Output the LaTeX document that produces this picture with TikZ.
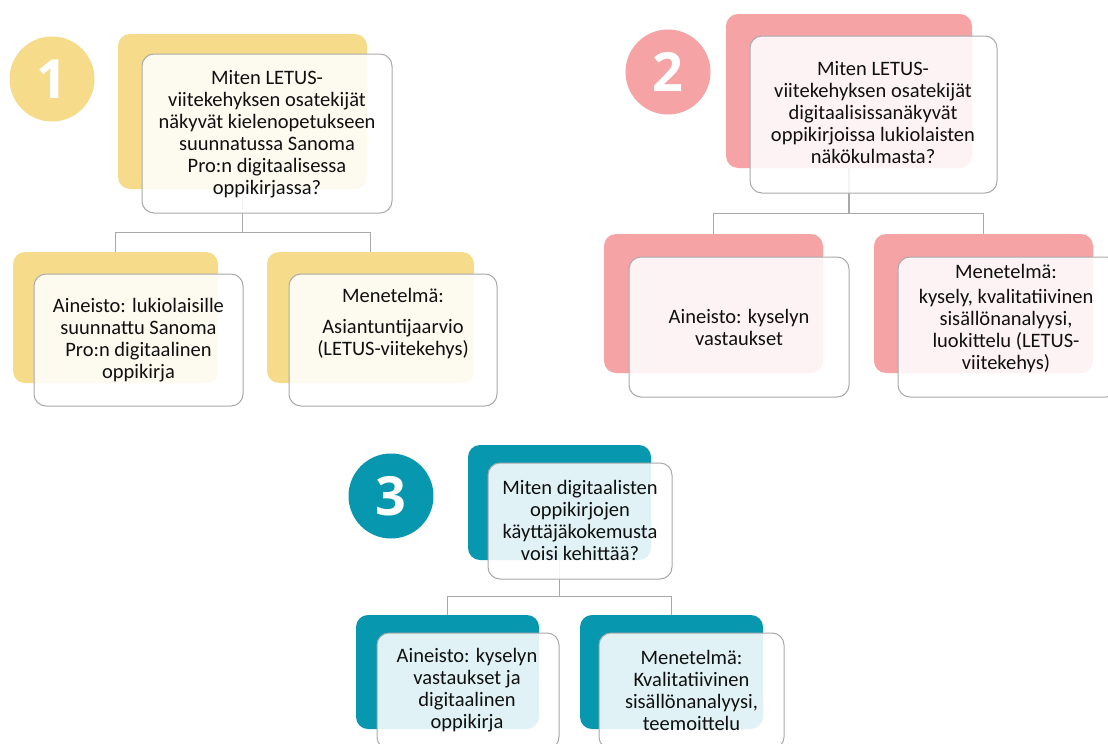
\documentclass[tikz,border=0pt]{standalone}
\usepackage{fontspec}
\setmainfont{Carlito}
\newfontfamily\digitfont{Open Sans}
\definecolor{yel}{HTML}{F6DC8A}
\definecolor{pnk}{HTML}{F5A3A5}
\definecolor{tea}{HTML}{0797AF}
\definecolor{edgegray}{HTML}{A9A9A9}
\definecolor{ink}{HTML}{101010}
\begin{document}
\begin{tikzpicture}[x=1pt,y=-1pt,
  backbox/.style={rectangle, rounded corners=12pt, inner sep=0pt, draw=none},
  frontbox/.style={rectangle, rounded corners=12pt, inner sep=0pt, draw=edgegray, line width=1pt, fill=white, fill opacity=0.88},
  txt/.style={align=center, inner sep=0pt, text=ink, font=\fontsize{20.5}{22}\selectfont},
  numdisc/.style={circle, inner sep=0pt, minimum size=85pt, text=white, font=\digitfont\bfseries\fontsize{54}{54}\selectfont},
  link/.style={draw=edgegray, line width=1.2pt}]
\useasboundingbox (0,0) rectangle (1108,744);
\clip (0,0) rectangle (1108,744);

% ---------- group 1 ----------
\node[numdisc, fill=yel] (n1) at (52,79) {1};
\node[backbox, fill=yel, minimum width=249pt, minimum height=155pt] (b1) at (242.5,111.5) {};
\node[backbox, fill=yel, minimum width=205pt, minimum height=131pt] (b1a) at (115.5,317.5) {};
\node[backbox, fill=yel, minimum width=207pt, minimum height=131pt] (b1b) at (370.5,317.5) {};
\draw[link] (b1.south) -- ++(0,43) -| (b1a.north);
\draw[link] (b1.south) -- ++(0,43) -| (b1b.north);
\node[frontbox, minimum width=250pt, minimum height=159pt] (f1) at (267,133.5) {};
\node[frontbox, minimum width=209pt, minimum height=132pt] (f1a) at (138.5,340) {};
\node[frontbox, minimum width=208pt, minimum height=132pt] (f1b) at (393,340) {};
\node[txt] (t1) at (267,134) {Miten LETUS-\\viitekehyksen osatekijät\\näkyvät kielenopetukseen\\suunnatussa Sanoma\\Pro:n digitaalisessa\\oppikirjassa?};
\node[txt] (t1a) at (138.5,340) {Aineisto: lukiolaisille\\suunnattu Sanoma\\Pro:n digitaalinen\\oppikirja};
\node[txt] (t1b) at (393,323.5) {Menetelmä:\\[9pt]Asiantuntijaarvio\\(LETUS-viitekehys)};

% ---------- group 2 ----------
\node[numdisc, fill=pnk] (n2) at (668,72) {2};
\node[backbox, fill=pnk, minimum width=246pt, minimum height=154pt] (b2) at (849,91) {};
\node[backbox, fill=pnk, minimum width=219pt, minimum height=139pt] (b2a) at (713.5,303.5) {};
\node[backbox, fill=pnk, minimum width=219pt, minimum height=139pt] (b2b) at (983.5,303.5) {};
\draw[link] (b2.south) -- ++(0,45) -| (b2a.north);
\draw[link] (b2.south) -- ++(0,45) -| (b2b.north);
\node[frontbox, minimum width=247pt, minimum height=157pt] (f2) at (873.5,114.5) {};
\node[frontbox, minimum width=220pt, minimum height=140pt] (f2a) at (739,327) {};
\node[frontbox, minimum width=220pt, minimum height=140pt] (f2b) at (1008,327) {};
\node[txt] (t2) at (873,113) {Miten LETUS-\\viitekehyksen osatekijät\\digitaalisissanäkyvät\\oppikirjoissa lukiolaisten\\näkökulmasta?};
\node[txt] (t2a) at (739,327) {Aineisto: kyselyn\\vastaukset};
\node[txt] (t2b) at (1006,319) {Menetelmä:\\[3pt]kysely, kvalitatiivinen\\sisällönanalyysi,\\luokittelu (LETUS-\\viitekehys)};

% ---------- group 3 ----------
\node[numdisc, fill=tea] (n3) at (391,496) {3};
\node[backbox, fill=tea, minimum width=183pt, minimum height=115pt] (b3) at (559.5,502.5) {};
\node[backbox, fill=tea, minimum width=183pt, minimum height=114pt] (b3a) at (447.5,672) {};
\node[backbox, fill=tea, minimum width=183pt, minimum height=114pt] (b3b) at (671.5,672) {};
\draw[link] (b3.south) -- ++(0,36) -| (b3a.north);
\draw[link] (b3.south) -- ++(0,36) -| (b3b.north);
\node[frontbox, minimum width=184pt, minimum height=116pt] (f3) at (580,521) {};
\node[frontbox, minimum width=182pt, minimum height=116pt] (f3a) at (468,691) {};
\node[frontbox, minimum width=185pt, minimum height=116pt] (f3b) at (691.5,691) {};
\node[txt] (t3) at (580,520.5) {Miten digitaalisten\\oppikirjojen\\käyttäjäkokemusta\\voisi kehittää?};
\node[txt] (t3a) at (467,690) {Aineisto: kyselyn\\vastaukset ja\\digitaalinen\\oppikirja};
\node[txt] (t3b) at (691.5,690) {Menetelmä:\\Kvalitatiivinen\\sisällönanalyysi,\\teemoittelu};
\end{tikzpicture}
\end{document}
